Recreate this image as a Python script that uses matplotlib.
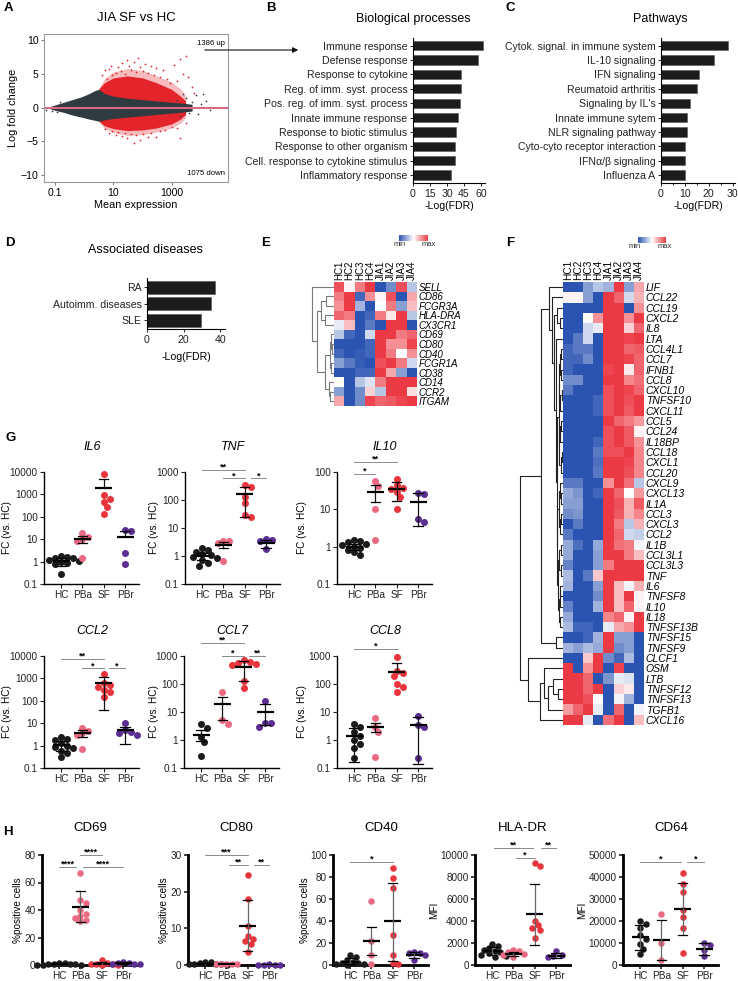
import numpy as np
import matplotlib
matplotlib.use('Agg')
import matplotlib.pyplot as plt
from matplotlib.colors import LinearSegmentedColormap, Normalize
from matplotlib.cm import ScalarMappable
from matplotlib.patches import FancyArrowPatch

W, H = 738, 981
plt.rcParams['font.family'] = ['Liberation Sans', 'DejaVu Sans']
plt.rcParams['font.size'] = 7
plt.rcParams['axes.linewidth'] = 0.8

# ---------------- data ----------------
# A: MA plot, cloud envelopes and sparse points
ma_grey_x = [0.06, 0.1, 0.2, 0.4, 0.8, 1.5, 2.5, 3.2, 5, 10, 30, 100, 300, 1000, 2000, 5000]
ma_grey_up = [0.1, 0.4, 0.8, 1.2, 1.6, 2.1, 2.6, 2.7, 2.1, 1.7, 1.4, 1.2, 1.0, 0.8, 0.7, 0.5]
ma_grey_lo = [-0.1, -0.4, -0.7, -1.1, -1.4, -1.7, -1.9, -2.0, -1.8, -1.6, -1.4, -1.2, -1.0, -0.8, -0.7, -0.5]
ma_red_x = [3.2, 5, 10, 30, 100, 300, 1000, 2000, 3000]
ma_red_up = [2.8, 3.7, 4.4, 4.7, 4.4, 3.7, 2.7, 1.7, 1.0]
ma_red_lo = [-2.0, -2.7, -3.1, -3.4, -3.3, -3.0, -2.4, -1.7, -1.0]
ma_sparse_up = [2.9, 4.3, 5.3, 5.8, 5.5, 4.7, 3.8, 2.8, 1.8]
ma_sparse_lo = [-2.1, -3.1, -3.7, -4.1, -4.0, -3.6, -3.0, -2.3, -1.5]
ma_out_red_x = [4, 5, 6, 7, 8, 9, 12, 15, 18, 20, 25, 30, 35, 40, 50, 60, 70, 80, 100, 120,
                150, 200, 250, 300, 400, 500, 700, 900, 1200, 1500, 2000, 2500, 3000, 3500, 5000, 6000,
                5, 7, 9, 12, 15, 20, 25, 30, 40, 50, 60, 80, 100, 150, 200, 300, 400, 600,
                1000, 1500, 2000, 3000]
ma_out_red_y = [4.8, 5.5, 4.2, 5.7, 6.2, 4.9, 5.2, 6.0, 5.4, 6.6, 5.0, 7.0, 6.1, 5.6, 6.8, 5.3, 7.4, 6.0, 5.4, 6.5,
                5.1, 6.2, 4.8, 5.8, 4.6, 5.5, 4.2, 3.6, 6.3, 4.0, 7.2, 5.0, 7.6, 4.5, 3.0, 2.2,
                -3.2, -3.8, -3.5, -4.0, -3.6, -4.2, -3.8, -4.5, -3.9, -5.2, -4.1, -4.8, -3.9, -4.4, -3.7, -4.3, -3.5, -3.3,
                -2.9, -3.0, -4.5, -2.2]
ma_out_grey_x = [1500, 2000, 3000, 4000, 5000, 7000, 8000, 10000, 12000, 15000, 20000, 2500, 0.08, 0.05, 0.12, 0.15]
ma_out_grey_y = [1.2, -1.3, 1.5, -0.8, 0.9, 1.8, -1.0, 0.5, 2.0, 1.0, -0.3, 2.0, -0.5, -0.3, -0.7, 0.8]

# B, C, D: enrichment bars
bp_terms = ['Immune response', 'Defense response', 'Response to cytokine', 'Reg. of imm. syst. process',
            'Pos. reg. of imm. syst. process', 'Innate immune response', 'Response to biotic stimulus',
            'Response to other organism', 'Cell. response to cytokine stimulus', 'Inflammatory response']
bp_vals = [61.5, 57, 42.4, 42.4, 41.2, 39.4, 38, 36.8, 36.8, 33.8]
pw_terms = ['Cytok. signal. in immune system', 'IL-10 signaling', 'IFN signaling', 'Reumatoid arthritis',
            "Signaling by IL's", 'Innate immune sytem', 'NLR signaling pathway', 'Cyto-cyto receptor interaction',
            'IFNα/β signaling', 'Influenza A']
pw_vals = [27.9, 22.4, 15.9, 15.1, 12.0, 10.9, 10.9, 10.2, 10.1, 10.1]
dis_terms = ['RA', 'Autoimm. diseases', 'SLE']
dis_vals = [37, 35, 29.5]

# E, F: heatmaps
samples = ['HC1', 'HC2', 'HC3', 'HC4', 'JIA1', 'JIA2', 'JIA3', 'JIA4']
e_genes = ['SELL', 'CD86', 'FCGR3A', 'HLA-DRA', 'CX3CR1', 'CD69', 'CD80', 'CD40', 'FCGR1A', 'CD38',
           'CD14', 'CCR2', 'ITGAM']
e_vals = [
    [0.8, 0.05, 0.6, 0.9, -0.9, -0.6, 0.8, -0.3],
    [0.6, 0.9, -0.8, 0.5, 0.05, 0.8, -0.9, 0.4],
    [0.5, 0.9, -0.4, -0.9, 0.0, 0.6, -0.5, 0.3],
    [0.7, 0.6, -0.9, -0.8, 0.6, 0.1, 0.9, -0.3],
    [-0.1, 0.3, -0.9, -0.7, -0.9, 0.9, 0.9, -0.9],
    [-0.3, -0.8, -0.9, -0.2, 0.9, 0.9, 0.6, 0.7],
    [-0.9, -0.9, -0.9, -0.8, 0.9, 0.5, 0.5, 0.85],
    [-0.8, -0.9, -0.85, -0.8, 0.9, 0.6, 0.0, 0.5],
    [-0.5, -0.7, -0.85, -0.9, 0.8, 0.9, 0.6, -0.2],
    [-0.9, -0.9, -0.8, -0.8, 0.9, 0.4, -0.5, -0.9],
    [0.0, -0.9, -0.3, -0.15, 0.6, 0.9, 0.9, 0.9],
    [-0.5, -0.9, -0.6, 0.2, -0.3, 0.9, 0.9, 0.15],
    [0.4, -0.9, -0.6, 0.85, 0.7, 0.75, 0.85, 0.9],
]
# tree as (height, left, right), leaves are row numbers
e_tree = (22, 0, (17, (13, (8, 1, 2), (9.5, 3, 4)),
                  (9, (4.5, (3.5, 5, (2.5, 6, 7)), (3, 8, 9)), (5, 10, (4, 11, 12)))))

f_genes = ['LIF', 'CCL22', 'CCL19', 'CXCL2', 'IL8', 'LTA', 'CCL4L1', 'CCL7', 'IFNB1', 'CCL8', 'CXCL10',
           'TNFSF10', 'CXCL11', 'CCL5', 'CCL24', 'IL18BP', 'CCL18', 'CXCL1', 'CCL20', 'CXCL9', 'CXCL13',
           'IL1A', 'CCL3', 'CXCL3', 'CCL2', 'IL1B', 'CCL3L1', 'CCL3L3', 'TNF', 'IL6', 'TNFSF8', 'IL10',
           'IL18', 'TNFSF13B', 'TNFSF15', 'TNFSF9', 'CLCF1', 'OSM', 'LTB', 'TNFSF12', 'TNFSF13', 'TGFB1',
           'CXCL16']
f_vals = [
    [-0.9, -0.9, -0.5, -0.3, -0.4, 0.9, -0.5, 0.4],
    [0.05, 0.05, -0.5, -0.9, 0.9, 0.7, -0.2, 0.35],
    [-0.9, -0.9, -0.9, -0.9, 0.9, 0.9, -0.9, 0.5],
    [-0.9, -0.9, 0.0, 0.5, 0.9, 0.9, 0.5, 0.9],
    [-0.9, -0.9, -0.2, -0.1, 0.9, 0.9, 0.2, 0.7],
    [-0.9, -0.7, -0.2, -0.9, 0.9, 0.9, 0.85, 0.9],
    [-0.8, -0.7, -0.7, -0.9, 0.9, 0.9, 0.7, 0.75],
    [-0.8, -0.8, -0.6, -0.9, 0.9, 0.9, 0.85, 0.7],
    [-0.8, -0.9, -0.9, -0.9, 0.85, 0.9, 0.1, 0.7],
    [-0.6, -0.6, -0.9, -0.9, 0.9, 0.9, 0.55, 0.65],
    [-0.7, -0.9, -0.9, -0.9, 0.8, 0.9, 0.85, 0.7],
    [-0.9, -0.9, -0.9, -0.8, 0.8, 0.9, 0.8, 0.9],
    [-0.9, -0.9, -0.9, -0.8, 0.8, 0.9, 0.75, 0.9],
    [-0.9, -0.9, -0.9, -0.9, 0.9, 0.7, 0.6, 0.45],
    [-0.9, -0.9, -0.9, -0.9, 0.8, 0.9, 0.75, 0.05],
    [-0.9, -0.9, -0.9, -0.8, 0.8, 0.9, 0.75, 0.5],
    [-0.9, -0.9, -0.9, -0.7, 0.8, 0.8, 0.9, 0.55],
    [-0.9, -0.9, -0.9, -0.75, 0.9, 0.9, 0.85, 0.55],
    [-0.9, -0.9, -0.9, -0.7, 0.9, 0.9, 0.8, 0.55],
    [-0.7, -0.7, -0.9, -0.9, 0.5, 0.9, 0.65, -0.3],
    [-0.45, -0.55, -0.9, -0.8, 0.9, 0.7, 0.0, 0.45],
    [-0.5, -0.5, -0.9, -0.9, 0.9, 0.8, 0.35, 0.75],
    [-0.6, -0.55, -0.9, -0.9, 0.9, 0.75, 0.35, 0.55],
    [-0.9, -0.7, -0.9, -0.9, 0.9, 0.6, -0.3, 0.35],
    [-0.7, -0.9, -0.9, -0.9, 0.9, 0.7, -0.2, -0.25],
    [-0.45, -0.75, -0.9, -0.45, 0.9, 0.65, 0.6, -0.05],
    [-0.45, -0.9, -0.9, -0.5, 0.9, 0.9, 0.6, 0.3],
    [-0.65, -0.9, -0.9, -0.5, 0.6, 0.9, 0.9, 0.9],
    [-0.35, -0.9, -0.7, 0.25, 0.9, 0.9, 0.9, 0.9],
    [-0.4, -0.9, -0.9, -0.5, 0.9, 0.3, -0.05, 0.35],
    [-0.9, -0.9, -0.9, -0.6, 0.9, 0.3, 0.9, 0.05],
    [-0.65, -0.9, -0.9, -0.4, 0.9, 0.3, 0.7, 0.05],
    [-0.45, -0.9, -0.9, -0.9, 0.55, 0.7, 0.05, 0.9],
    [-0.35, -0.8, -0.8, -0.9, -0.1, 0.4, 0.5, 0.9],
    [-0.9, -0.9, -0.8, -0.4, 0.9, -0.5, -0.5, -0.9],
    [-0.4, -0.5, -0.35, -0.45, 0.9, -0.6, -0.5, -0.9],
    [-0.9, -0.9, 0.25, 0.9, -0.6, -0.8, -0.35, -0.9],
    [0.9, -0.9, 0.5, 0.9, -0.9, 0.85, -0.9, -0.9],
    [0.9, 0.9, 0.7, -0.9, -0.55, -0.1, -0.15, -0.9],
    [0.9, 0.9, 0.7, 0.9, -0.9, 0.2, 0.1, -0.9],
    [0.9, 0.9, 0.8, 0.0, -0.9, -0.05, -0.4, -0.9],
    [0.45, 0.7, 0.9, -0.1, -0.9, 0.7, -0.9, -0.05],
    [0.9, 0.9, -0.1, -0.9, 0.65, 0.9, -0.9, 0.3],
]
f_c1 = (4.5, (4, (3.5, (2, 6, 7), (2.5, 8, 9)), (3, (1.5, 10, 11), 12)),
        (4, (3, (2, 13, 14), 15), (2.5, (1.5, 16, 17), 18)))
f_c2 = (6, (4.5, (3.5, 19, (2.5, 20, 21)), (3.5, (2, 22, 23), 24)),
        (5, (4, (2.5, 25, 26), (2.5, 27, 28)), (4.5, (3.5, (3, 29, 30), 31), (2.7, 32, 33))))
f_upper = (22, (14, 0, (11, 1, (9, (6.5, 2, (3, 3, 4)), (7.5, 5, (6.5, f_c1, f_c2))))), (7, 34, 35))
f_lower = (35, 36, (23, (19, 37, (15, (10, 38, (5, 39, 40)), 41)), 42))
f_tree = (43, f_upper, f_lower)

# G: qPCR fold changes (HC, PBa, SF, PBr)
groups = ['HC', 'PBa', 'SF', 'PBr']
nan = np.nan
il6_pts = [[1.8, 1.6, 1.5, 1.4, 1.2, 1.1, 1.0, 0.9, 0.75, 0.28], [19, 12, 10, 8.5, 1.5],
           [8000, 950, 650, 480, 280, 140], [25, 23, 2.3, 0.75]]
il6_mean, il6_lo, il6_hi = [1.1, 10, 2000, 12], [0.65, 7, nan, nan], [1.5, 14, 5000, 23]
tnf_pts = [[1.9, 1.6, 1.4, 1.2, 1.05, 0.95, 0.85, 0.7, 0.55, 0.45], [3.5, 3.3, 3.0, 0.65],
           [330, 290, 130, 80, 28, 25], [4.0, 3.7, 3.4, 1.8]]
tnf_mean, tnf_lo, tnf_hi = [1.0, 2.5, 170, 3.0], [0.7, 1.9, 25, 1.9], [1.3, 3.2, 300, 3.8]
il10_pts = [[1.5, 1.4, 1.3, 1.2, 1.1, 1.0, 0.9, 0.8, 0.7, 0.6], [58, 42, 10, 1.5],
            [65, 45, 38, 34, 30, 22, 10.5], [27, 26, 5.5, 4.5]]
il10_mean, il10_lo, il10_hi = [1.0, 30, 35, 16], [0.8, 16, 17, 3.5], [1.2, 45, 53, 28]
ccl2_pts = [[2.3, 2.0, 1.7, 1.3, 1.0, 0.9, 0.75, 0.6, 0.45, 0.3], [6.2, 4.5, 3.5, 3.0, 0.7],
            [1600, 600, 500, 400, 300, 250, 150], [10, 5.0, 4.2, 3.8, 3.0]]
ccl2_mean, ccl2_lo, ccl2_hi = [1.1, 3.5, 600, 5], [0.6, 2.5, 40, 1.2], [1.6, 5, 1100, 7]
ccl7_pts = [[3.6, 2.7, 1.3, 0.85, 0.26], [50, 5.0, 3.8],
            [700, 620, 560, 520, 470, 130, 70], [25, 4.2, 4.0, 3.0]]
ccl7_mean, ccl7_lo, ccl7_hi = [1.5, 20, 420, 10], [0.9, 5, 130, 3.5], [2.2, 35, 640, 20]
ccl8_pts = [[3.6, 2.9, 1.9, 1.35, 1.0, 0.7, 0.5, 0.22], [6.1, 3.0, 2.0, 0.25],
            [900, 300, 250, 200, 100, 80, 50], [7.0, 3.5, 3.0, 0.22]]
ccl8_mean, ccl8_lo, ccl8_hi = [1.4, 3.0, 270, 3.3], [0.17, 2.0, nan, 0.14], [2.6, 4.2, 560, 6.5]
tnf_sig = [(0, 2, 1150, '**'), (1, 2, 590, '*'), (2.3, 3, 590, '*')]
il10_sig = [(0, 2, 183, '**'), (0, 1, 87, '*')]
ccl2_sig = [(0, 2, 7100, '**'), (1, 2, 2800, '*'), (2.25, 3, 2800, '*')]
ccl7_sig = [(0, 2, 2850, '**'), (1, 2, 980, '*'), (2.25, 3, 980, '**')]
ccl8_sig = [(0, 2, 1730, '*')]

# H: flow cytometry
cd69_pts = [[1.5, 1.2, 1.0, 0.8, 0.5, 0.4, 0.3, 0.2, 0.1], [67, 47, 45, 40, 37, 36, 34, 33, 32],
            [4.0, 1.5, 1.0, 0.6, 0.4, 0.2, 0.1], [2.2, 1.8, 1.2, 1.0, 0.8, 0.5]]
cd69_mean, cd69_lo, cd69_hi = [0.6, 42, 1.0, 1.1], [0.2, 31, 0.2, 0.6], [1.0, 53.5, 2.3, 1.6]
cd80_pts = [[0.9, 0.7, 0.5, 0.4, 0.3, 0.2, 0.15, 0.1], [0.35, 0.3, 0.25, 0.2, 0.15],
            [24.5, 18, 10.7, 7.8, 7.2, 6.5, 5.8, 3.6], [0.15, 0.12, 0.1, 0.08, 0.05]]
cd80_mean, cd80_lo, cd80_hi = [0.4, 0.25, 10.6, 0.1], [0.2, 0.15, 3.8, 0.06], [0.6, 0.3, 17.8, 0.13]
cd40_pts = [[9, 7, 5, 3, 2, 1.5, 1, 0.5, 0.3], [58, 22, 9, 1],
            [88, 79, 70, 27, 9, 1.5, 1], [12, 11, 10.5, 9, 5]]
cd40_mean, cd40_lo, cd40_hi = [3, 22, 40, 9.5], [0.5, 9, 4, 6], [6, 35, 75, 12]
hla_pts = [[1950, 1750, 1550, 1400, 1300, 1200, 1050, 950, 850, 750], [1350, 1250, 1150, 1000, 900, 700],
           [9300, 9000, 4000, 3600, 3400, 3200, 2500], [1250, 950, 800, 700]]
hla_mean, hla_lo, hla_hi = [1300, 1000, 4600, 850], [900, 800, 1800, 600], [1600, 1200, 7400, 1100]
cd64_pts = [[20000, 18500, 17000, 13500, 12000, 9500, 7500, 5000], [23000, 10000, 2500],
            [42000, 37000, 33000, 25000, 22000, 17000, 5500], [10000, 9000, 7000, 4000]]
cd64_mean, cd64_lo, cd64_hi = [12800, 11500, 25500, 7200], [7000, 2500, 13500, 4500], [18000, 20500, 37500, 10000]
cd69_sig = [(1, 2, 80, '****'), (0, 0.8, 71, '****'), (1.1, 3, 71, '****')]
cd80_sig = [(0, 2, 30, '***'), (1.1, 2, 27.3, '**'), (2.3, 3, 27.3, '**')]
cd40_sig = [(0, 2, 94, '*')]
hla_sig = [(0.1, 1.9, 10636, '**'), (2.3, 3, 10636, '**'), (1.1, 2.0, 9727, '*')]
cd64_sig = [(0, 1.9, 46800, '*'), (2.2, 3, 46800, '*')]

dot_colors = ['#1b1b1b', '#ea6a82', '#e8343c', '#5b2e91']

# ---------------- drawing helpers ----------------
fig = plt.figure(figsize=(W / 100, H / 100), dpi=100)


def px_axes(left, top, width, height):
    return fig.add_axes([left / W, 1 - (top + height) / H, width / W, height / H])


def ftext(x, y, s, **kw):
    fig.text(x / W, 1 - y / H, s, **kw)


def letter(x, y, s):
    ftext(x, y, s, fontsize=9.5, fontweight='bold', va='top', ha='left')


def bar_panel(ax, terms, vals, xlim, xticks, ylim, height):
    ax.barh(range(len(terms)), vals, height=height, color='#1c1c1c', edgecolor='#555555', lw=0.4)
    ax.set_ylim(*ylim)
    ax.set_xlim(*xlim)
    ax.set_yticks(range(len(terms)))
    ax.set_yticklabels(terms, fontsize=7.6, color='#222222')
    ax.set_xticks(xticks)
    ax.tick_params(labelsize=7.6, length=2.5, width=0.7, pad=1.5, colors='#222222')
    for s in ['top', 'right']:
        ax.spines[s].set_visible(False)
    ax.set_xlabel('-Log(FDR)', fontsize=7.6, labelpad=2)


def draw_tree(ax, node, color, lw):
    if isinstance(node, int):
        return node, 0.0
    h, left, right = node
    yl, hl = draw_tree(ax, left, color, lw)
    yr, hr = draw_tree(ax, right, color, lw)
    ax.plot([hl, h, h, hr], [yl, yl, yr, yr], color=color, lw=lw, solid_capstyle='butt')
    return (yl + yr) / 2, h


def swarm(ax, xc, vals, diam):
    # spread overlapping points sideways, in screen pixels
    vals = np.asarray(vals, float)
    ys = ax.transData.transform(np.column_stack([np.full(len(vals), xc), vals]))[:, 1]
    order = np.argsort(-ys)
    steps = [0.0]
    for k in range(1, 12):
        steps += [k * diam * 0.42, -k * diam * 0.42]
    offs = np.zeros(len(vals))
    placed = []
    for i in order:
        for s in steps:
            if all((s - qx) ** 2 + (ys[i] - qy) ** 2 >= (0.78 * diam) ** 2 for qx, qy in placed):
                offs[i] = s
                placed.append((s, ys[i]))
                break
    x0 = ax.transData.transform((xc, 1))[0]
    x1 = ax.transData.transform((xc + 1, 1))[0]
    return xc + offs / (x1 - x0)


def dot_panel(ax, pts, mean, lo, hi, ylim, log, yticks, yticklabels, ylabel, label_x, sig, flow):
    ax.set_xlim(-0.8, 3.65)
    if log:
        ax.set_yscale('log')
    ax.set_ylim(*ylim)
    ax.set_yticks(yticks)
    ax.set_yticklabels(yticklabels)
    ax.minorticks_off()
    ax.set_xticks(range(4))
    ax.set_xticklabels(groups)
    for s in ['top', 'right']:
        ax.spines[s].set_visible(False)
    lw_sp = 2.0 if flow else 1.0
    for s in ['left', 'bottom']:
        ax.spines[s].set_linewidth(lw_sp)
    ax.tick_params(labelsize=7.2, length=3, width=1.2 if flow else 0.8, pad=1.5, colors='#222222')
    ax.set_ylabel(ylabel, fontsize=7.2)
    ax.yaxis.set_label_coords(label_x, 0.5)
    diam = 6.5 if flow else 7.0
    for i, vals in enumerate(pts):
        xs = swarm(ax, i, vals, diam)
        ax.scatter(xs, vals, s=(diam * 0.72) ** 2, color=dot_colors[i], lw=0, zorder=3, clip_on=False)
        vcol = '#666666' if flow else '#111111'
        ax.plot([i - 0.4, i + 0.4], [mean[i]] * 2, color='k', lw=1.6, zorder=4, solid_capstyle='butt')
        for e in (lo[i], hi[i]):
            if not np.isnan(e):
                ax.plot([i, i], [mean[i], e], color=vcol, lw=0.9, zorder=4)
                ax.plot([i - 0.22, i + 0.22], [e, e], color='k', lw=0.9, zorder=4)
    for x1, x2, y, lab in sig:
        ax.plot([x1, x2], [y, y], color='#8a8a8a', lw=0.7, clip_on=False)
        ax.annotate(lab, ((x1 + x2) / 2, y), xytext=(0, -1.2), textcoords='offset points',
                    ha='center', va='bottom', fontsize=6.5, fontweight='bold', annotation_clip=False)


cmap = LinearSegmentedColormap.from_list('bwr_hm', ['#2b54b2', '#ffffff', '#ec3a44'])

# ---------------- A ----------------
letter(4, 2, 'A')
ftext(136, 18, 'JIA SF vs HC', fontsize=9.5, ha='center', va='center')
ax = px_axes(44, 34, 184, 148)
ax.set_xscale('log')
ax.set_xlim(0.042, 85000)
ax.set_ylim(-11, 10.9)
ax.fill_between(ma_red_x, ma_sparse_lo, ma_sparse_up, color='#ee6a6e', lw=0, alpha=0.45)
ax.fill_between(ma_red_x, ma_red_lo, ma_red_up, color='#e3242b', lw=0)
ax.fill_between(ma_grey_x, ma_grey_lo, ma_grey_up, color='#2f3b41', lw=0)
ax.scatter(ma_out_red_x, ma_out_red_y, s=1.6, color='#e3242b', lw=0)
ax.scatter(ma_out_grey_x, ma_out_grey_y, s=1.6, color='#3a464c', lw=0)
ax.axhline(0, color='#d9697f', lw=1.5)
ax.set_xticks([0.1, 10, 1000])
ax.set_xticklabels(['0.1', '10', '1000'])
ax.minorticks_off()
ax.set_yticks([-10, -5, 0, 5, 10])
for s in ax.spines.values():
    s.set_color('#9a9a9a')
ax.tick_params(labelsize=7.6, length=2.5, width=0.7, color='#777777', pad=1.5)
ax.set_xlabel('Mean expression', fontsize=7.8, labelpad=2)
ax.set_ylabel('Log fold change', fontsize=7.8, labelpad=2)
ax.text(0.985, 0.935, '1386 up', transform=ax.transAxes, ha='right', va='center', fontsize=5.6)
ax.text(0.985, 0.057, '1075 down', transform=ax.transAxes, ha='right', va='center', fontsize=5.6)
fig.add_artist(FancyArrowPatch((202 / W, 1 - 50 / H), (301 / W, 1 - 50 / H), transform=fig.transFigure,
                               arrowstyle='-|>', mutation_scale=8, lw=0.8, color='#111111'))

# ---------------- B ----------------
letter(266, 2, 'B')
ftext(413, 19, 'Biological processes', fontsize=9, ha='center', va='center')
ax = px_axes(413, 38, 72, 145)
bar_panel(ax, bp_terms, bp_vals, (0, 63.5), [0, 15, 30, 45, 60], (9.56, -0.54), 0.65)

# ---------------- C ----------------
letter(505, 2, 'C')
ftext(660, 19, 'Pathways', fontsize=9, ha='center', va='center')
ax = px_axes(661, 38, 74, 145)
bar_panel(ax, pw_terms, pw_vals, (0, 31), [0, 10, 20, 30], (9.56, -0.54), 0.65)
ax.set_xticks([5, 15, 25], minor=True)
ax.tick_params(which='minor', length=1.5, width=0.6)

# ---------------- D ----------------
letter(5, 237, 'D')
ftext(145, 250, 'Associated diseases', fontsize=9, ha='center', va='center')
ax = px_axes(147, 278, 78, 51)
bar_panel(ax, dis_terms, dis_vals, (0, 42.7), [0, 20, 40], (2.55, -0.58), 0.8)
ax.xaxis.labelpad = 5

# ---------------- E ----------------
letter(261, 237, 'E')
ax = px_axes(334, 282, 83, 124)
ax.imshow(e_vals, cmap=cmap, vmin=-0.9, vmax=0.9, aspect='auto', interpolation='nearest')
ax.xaxis.tick_top()
ax.set_xticks(range(8))
ax.set_xticklabels(samples, rotation=90, fontsize=7)
ax.yaxis.tick_right()
ax.set_yticks(range(len(e_genes)))
ax.set_yticklabels(e_genes, style='italic', fontsize=7)
ax.tick_params(length=0, pad=1.2)
for s in ax.spines.values():
    s.set_visible(False)
axd = px_axes(310, 282, 24, 124)
axd.set_xlim(24, 0)
axd.set_ylim(len(e_genes) - 0.5, -0.5)
draw_tree(axd, e_tree, '#7a7a7a', 0.8)
axd.axis('off')
cax = px_axes(399, 235, 29, 6)
cb = fig.colorbar(ScalarMappable(Normalize(-1, 1), cmap), cax=cax, orientation='horizontal', ticks=[])
cb.outline.set_visible(False)
ftext(400, 245, 'min', fontsize=5.5, ha='center', va='center', color='#333333')
ftext(429, 245, 'max', fontsize=5.5, ha='center', va='center', color='#333333')

# ---------------- F ----------------
letter(506, 237, 'F')
ax = px_axes(563, 282, 81, 443)
ax.imshow(f_vals, cmap=cmap, vmin=-0.9, vmax=0.9, aspect='auto', interpolation='nearest')
ax.xaxis.tick_top()
ax.set_xticks(range(8))
ax.set_xticklabels(samples, rotation=90, fontsize=7.3)
ax.yaxis.tick_right()
ax.set_yticks(range(len(f_genes)))
ax.set_yticklabels(f_genes, style='italic', fontsize=7.5)
ax.tick_params(length=0, pad=1.2)
for s in ax.spines.values():
    s.set_visible(False)
axd = px_axes(517, 282, 46, 443)
axd.set_xlim(46, 0)
axd.set_ylim(len(f_genes) - 0.5, -0.5)
draw_tree(axd, f_tree, '#222222', 0.8)
axd.axis('off')
cax = px_axes(638, 237, 28, 6)
cb = fig.colorbar(ScalarMappable(Normalize(-1, 1), cmap), cax=cax, orientation='horizontal', ticks=[])
cb.outline.set_visible(False)
ftext(635, 246, 'min', fontsize=5.5, ha='center', va='center', color='#333333')
ftext(665, 246, 'max', fontsize=5.5, ha='center', va='center', color='#333333')

# ---------------- G ----------------
letter(5, 432, 'G')
log_ticks = [0.1, 1, 10, 100, 1000, 10000]
log_labels = ['0.1', '1', '10', '100', '1000', '10000']
g_specs = [
    ('IL6', 44, 472, il6_pts, il6_mean, il6_lo, il6_hi, 10000, [], -0.34),
    ('TNF', 185, 472, tnf_pts, tnf_mean, tnf_lo, tnf_hi, 1000, tnf_sig, -0.27),
    ('IL10', 337, 472, il10_pts, il10_mean, il10_lo, il10_hi, 100, il10_sig, -0.32),
    ('CCL2', 44, 656, ccl2_pts, ccl2_mean, ccl2_lo, ccl2_hi, 10000, ccl2_sig, -0.34),
    ('CCL7', 184, 656, ccl7_pts, ccl7_mean, ccl7_lo, ccl7_hi, 1000, ccl7_sig, -0.26),
    ('CCL8', 337, 656, ccl8_pts, ccl8_mean, ccl8_lo, ccl8_hi, 1000, ccl8_sig, -0.32),
]
for name, left, top, pts, mean, lo, hi, ytop, sig, lx in g_specs:
    ax = px_axes(left, top, 95, 112)
    n = log_ticks.index(ytop) + 1
    dot_panel(ax, pts, mean, lo, hi, (0.1, ytop), True, log_ticks[:n], log_labels[:n], 'FC (vs. HC)', lx,
              sig, False)
    ftext(left + 48, top - 25, name, fontsize=9, style='italic', ha='center', va='center')

# ---------------- H ----------------
letter(3, 826, 'H')
h_specs = [
    ('CD69', 42, cd69_pts, cd69_mean, cd69_lo, cd69_hi, 80, [0, 20, 40, 60, 80], '%positive cells', cd69_sig, -0.2),
    ('CD80', 188, cd80_pts, cd80_mean, cd80_lo, cd80_hi, 30, [0, 10, 20, 30], '%positive cells', cd80_sig, -0.2),
    ('CD40', 333, cd40_pts, cd40_mean, cd40_lo, cd40_hi, 100, [0, 20, 40, 60, 80, 100], '%positive cells',
     cd40_sig, -0.24),
    ('HLA-DR', 475, hla_pts, hla_mean, hla_lo, hla_hi, 10000, [0, 2000, 4000, 6000, 8000, 10000], 'MFI',
     hla_sig, -0.38),
    ('CD64', 623, cd64_pts, cd64_mean, cd64_lo, cd64_hi, 50000, [0, 10000, 20000, 30000, 40000, 50000], 'MFI',
     cd64_sig, -0.38),
]
for name, left, pts, mean, lo, hi, ytop, yticks, ylabel, sig, lx in h_specs:
    ax = px_axes(left, 855, 95, 110)
    dot_panel(ax, pts, mean, lo, hi, (0, ytop), False, yticks, [str(t) for t in yticks], ylabel, lx, sig, True)
    ftext(left + 48, 828, name, fontsize=9.5, ha='center', va='center')

fig.savefig('out.png', dpi=100)
